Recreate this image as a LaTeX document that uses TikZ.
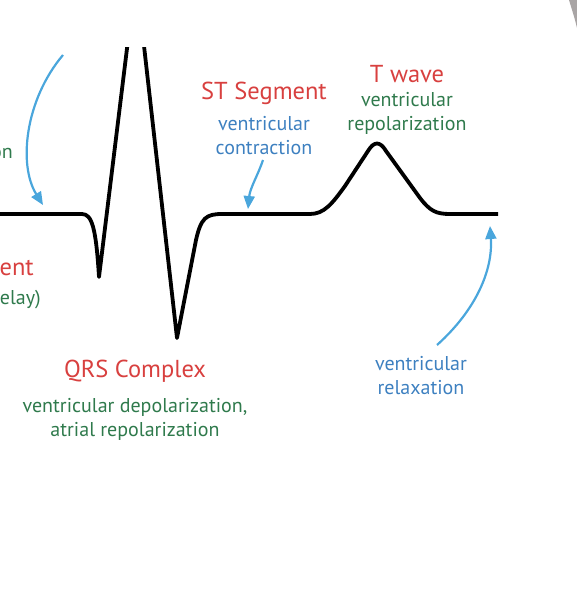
\documentclass[tikz,border=0pt]{standalone}
\usepackage{fontspec}
\setmainfont{PT Sans}
\usepackage{xcolor}
\usetikzlibrary{arrows.meta,positioning}

\definecolor{ecgred}{HTML}{D8403F}
\definecolor{ecggreen}{HTML}{2F7A4C}
\definecolor{ecgblue}{HTML}{3D80C0}
\definecolor{ecgarrow}{HTML}{4AA6DC}
\definecolor{edgegray}{HTML}{A9A5A5}

\begin{document}
\begin{tikzpicture}[
        x=1pt, y=-1pt,
        title/.style={font=\fontsize{24.5}{28}\selectfont, text=ecgred, inner sep=0pt},
        note/.style={font=\fontsize{20}{24}\selectfont, align=center, inner sep=0pt},
        grn/.style={note, text=ecggreen},
        blu/.style={note, text=ecgblue},
        wave/.style={line width=3.8pt, black, line join=round},
        arr/.style={-{Triangle[length=13pt, width=11pt]}, line width=2.2pt, ecgarrow}
    ]
        %--- Frame ---
        \path[use as bounding box] (0,0) rectangle (577,604);
        \clip (0,0) rectangle (577,604);
        \fill[edgegray] (569,0) .. controls (572,10) and (575,19) .. (577,28) -- (577,0) -- cycle;

        %--- ECG trace ---
        \begin{scope}
            \clip (0,48) rectangle (577,604);
            \draw[wave] (0,214) -- (82,214)
                .. controls (92,214) and (96,228) .. (99,277)
                -- (136,-25) -- (177,338) -- (196,240)
                .. controls (201,218) and (206,214) .. (222,214)
                -- (310,214)
                .. controls (324,214) and (332,204) .. (345,186)
                -- (368,151) .. controls (374,141) and (380,141) .. (386,151)
                -- (420,198) .. controls (430,211) and (436,214) .. (450,214)
                -- (498,214);
        \end{scope}

        %--- Points on the trace ---
        \coordinate (pr) at (43,205);
        \coordinate (st) at (248,209);
        \coordinate (tp) at (490,226);
        \coordinate (prfrom) at (63,55);
        \coordinate (stfrom) at (263,160);
        \coordinate (tpfrom) at (437,345);

        %--- Labels ---
        \node[title] (sthead) at (264,93) {ST Segment};
        \node[blu, below=12pt of sthead] (stsub) {ventricular\\contraction};
        \node[title] (thead) at (407,74) {T wave};
        \node[grn, below=9pt of thead] (tsub) {ventricular\\repolarization};
        \node[title] (qrshead) at (135,371) {QRS Complex};
        \node[grn, below=16pt of qrshead] (qrssub) {ventricular depolarization,\\atrial repolarization};
        \node[blu] (relax) at (421,376) {ventricular\\relaxation};
        \node[grn, anchor=east] (pwave) at (13,153) {on};
        \node[title, anchor=east] (prhead) at (34,268) {ent};
        \node[grn, anchor=east] (prsub) at (41,300) {elay)};

        %--- Arrows ---
        \draw[arr] (prfrom) .. controls (25,100) and (18,165) .. (pr);
        \draw[arr] (stfrom) .. controls (258,175) and (250,188) .. (st);
        \draw[arr] (tpfrom) .. controls (476,310) and (493,270) .. (tp);
    \end{tikzpicture}
\end{document}
